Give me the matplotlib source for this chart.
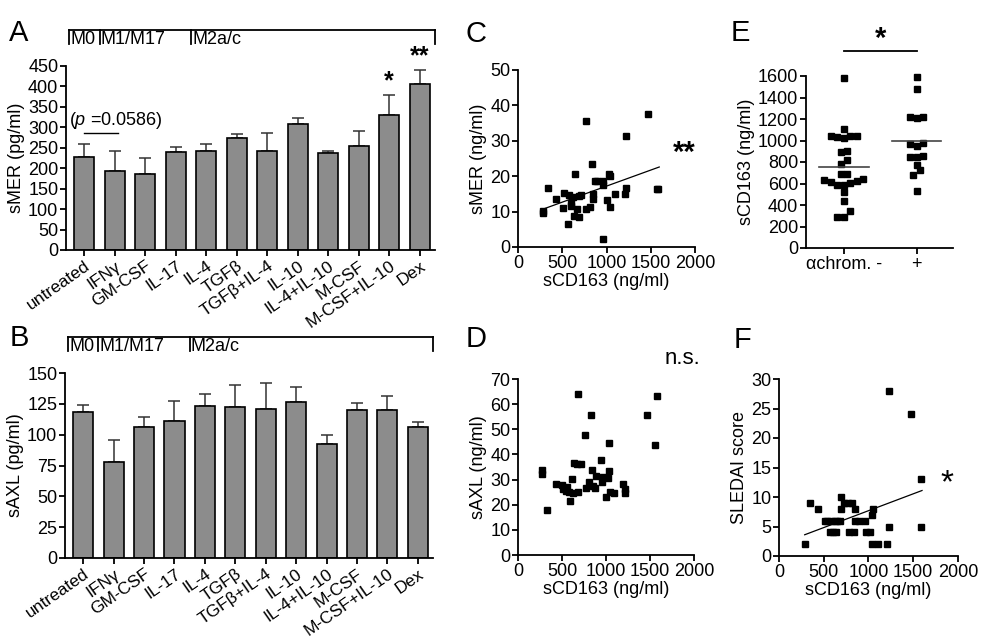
import numpy as np
import matplotlib
matplotlib.use('Agg')
import matplotlib.pyplot as plt
import matplotlib.transforms as mtransforms

plt.rcParams['font.family'] = ['Liberation Sans', 'DejaVu Sans']
plt.rcParams['mathtext.fontset'] = 'custom'
plt.rcParams['mathtext.it'] = 'Liberation Sans:italic'
plt.rcParams['mathtext.rm'] = 'Liberation Sans'
plt.rcParams['font.size'] = 13
plt.rcParams['axes.linewidth'] = 1.3
plt.rcParams['xtick.major.width'] = 1.3
plt.rcParams['ytick.major.width'] = 1.3
plt.rcParams['xtick.major.size'] = 4
plt.rcParams['ytick.major.size'] = 4
plt.rcParams['xtick.labelsize'] = 13
plt.rcParams['ytick.labelsize'] = 13

# bar charts (A, B)
treatments = ['untreated', 'IFNγ', 'GM-CSF', 'IL-17', 'IL-4', 'TGFβ', 'TGFβ+IL-4',
              'IL-10', 'IL-4+IL-10', 'M-CSF', 'M-CSF+IL-10', 'Dex']
smer_mean = [228, 193, 187, 239, 242, 273, 241, 307, 237, 255, 331, 406]
smer_err = [32, 50, 38, 12, 17, 11, 46, 17, 5, 35, 47, 33]
saxl_mean = [118.5, 78, 106, 111, 123, 122.5, 120.7, 126.6, 92.4, 120.4, 119.8, 106]
saxl_err = [5.9, 18, 8.5, 16.7, 10, 18.1, 21.3, 11.8, 7.6, 5.4, 11.2, 4]
groups = ['M0', 'M1/M17', 'M2a/c']
group_bounds = [-0.5, 0.5, 3.5, 11.5]

# C: sCD163 vs sMER
c_x = [283, 283, 340, 434, 509, 521, 577, 566, 596, 604, 623, 630, 642, 672, 687, 687, 717,
       766, 774, 811, 834, 842, 849, 875, 898, 955, 962, 966, 1008, 1030, 1045, 1042, 1098,
       1204, 1219, 1219, 1472, 1566, 1585]
c_y = [10.1, 9.6, 16.6, 13.6, 11.0, 15.3, 14.8, 6.4, 12.3, 11.5, 14.2, 8.8, 20.6, 10.8, 8.4,
       14.5, 14.8, 35.6, 10.8, 11.3, 23.5, 15.1, 13.6, 18.6, 18.7, 2.2, 18.7, 17.4, 13.4, 20.6,
       20.0, 11.2, 15.1, 14.9, 16.6, 31.4, 37.7, 16.4, 16.4]
c_fit_x = [283, 1596]
c_fit_y = [10.7, 22.6]

# D: sCD163 vs sAXL
d_x = [277, 277, 333, 428, 504, 515, 549, 561, 576, 591, 614, 621, 633, 674, 682, 682, 720,
       758, 769, 803, 830, 837, 856, 875, 883, 947, 958, 966, 1004, 1023, 1034, 1034, 1042,
       1087, 1193, 1212, 1212, 1466, 1561, 1580]
d_y = [33.8, 32.2, 17.9, 28.2, 28.0, 26.1, 25.6, 26.9, 25.2, 21.5, 30.4, 24.5, 36.6, 36.0,
       64.0, 25.2, 36.0, 47.7, 26.8, 28.9, 55.8, 33.7, 27.4, 26.8, 31.3, 37.6, 29.1, 30.9,
       22.9, 30.5, 44.6, 33.3, 25.2, 24.7, 28.1, 26.4, 24.8, 55.5, 43.6, 63.4]

# E: sCD163 by achromotrichia
e_neg = [1578, 1108, 1046, 1046, 1046, 1037, 1021, 891, 898, 820, 783, 690, 690, 634, 604,
         582, 582, 610, 625, 641, 520, 439, 347, 288, 288]
e_pos = [1588, 1479, 1222, 1213, 1222, 975, 953, 969, 857, 845, 851, 774, 727, 681, 526]

# F: sCD163 vs SLEDAI
f_x = [287, 343, 436, 510, 536, 566, 585, 603, 622, 633, 648, 678, 689, 689, 723, 771, 782,
       816, 838, 853, 846, 894, 957, 976, 1020, 1039, 1050, 1043, 1106, 1210, 1229, 1229,
       1479, 1583, 1590]
f_y = [2, 9, 8, 6, 6, 4, 6, 4, 6, 4, 6, 6, 8, 10, 9, 9, 4, 9, 4, 8, 6, 6, 6, 4, 4, 7, 8, 2,
       2, 2, 5, 28, 24, 5, 13]
f_fit_x = [287, 1598]
f_fit_y = [3.6, 11.1]

bar_color = '#8c8c8c'
W, H = 1004, 643
fig = plt.figure(figsize=(W / 100, H / 100), dpi=100)


def px_axes(l, t, r, b):
    return fig.add_axes([l / W, 1 - b / H, (r - l) / W, (b - t) / H])


def clean(ax):
    ax.spines['right'].set_visible(False)
    ax.spines['top'].set_visible(False)
    ax.tick_params(direction='out', pad=1.5)


def bar_panel(ax, means, errs, ylim, yticks, ylabel):
    pos = np.arange(len(treatments))
    ax.bar(pos, means, width=0.66, color=bar_color, edgecolor='black', linewidth=1.2, zorder=2)
    ax.errorbar(pos, means, yerr=[np.zeros(len(errs)), errs], fmt='none', ecolor='#333333',
                elinewidth=1.1, capsize=4, capthick=1.1, zorder=1)
    ax.set_xlim(-0.6, 11.5)
    ax.set_ylim(*ylim)
    ax.set_yticks(yticks)
    ax.set_xticks(pos)
    ax.set_xticklabels(treatments, rotation=35, ha='right', rotation_mode='anchor',
                       fontsize=12.5)
    ax.set_ylabel(ylabel, fontsize=13, labelpad=2)
    clean(ax)
    ax.tick_params(axis='x', pad=2)
    # macrophage-type bracket above the bars
    tr = mtransforms.blended_transform_factory(ax.transData, ax.transAxes)
    ax.plot([group_bounds[0], group_bounds[-1]], [1.195, 1.195], color='black', lw=1.3,
            transform=tr, clip_on=False)
    for b in group_bounds:
        ax.plot([b, b], [1.195, 1.12], color='black', lw=1.3, transform=tr, clip_on=False)
    for g, b in zip(groups, group_bounds[:-1]):
        ax.text(b + 0.04, 1.19, g, transform=tr, ha='left', va='top', fontsize=13)


# A
axA = px_axes(66, 66, 435, 250)
bar_panel(axA, smer_mean, smer_err, (0, 450), np.arange(0, 451, 50), 'sMER (pg/ml)')
axA.plot([0, 1.1], [286, 286], color='black', lw=1)
axA.text(-0.5, 290, r'($\mathit{p}$ =0.0586)', fontsize=13, va='bottom')
axA.text(10, smer_mean[10] + smer_err[10] + 6, '*', ha='center', va='bottom', fontsize=18,
         fontweight='bold')
axA.text(11, smer_mean[11] + smer_err[11] + 6, '**', ha='center', va='bottom', fontsize=18,
         fontweight='bold', clip_on=False)

# B
axB = px_axes(65, 373, 433, 558)
bar_panel(axB, saxl_mean, saxl_err, (0, 150), np.arange(0, 151, 25), 'sAXL (pg/ml)')

# C
axC = px_axes(518, 70, 695, 247)
axC.plot(c_x, c_y, 's', color='black', markersize=4.3, clip_on=False)
axC.plot(c_fit_x, c_fit_y, color='black', lw=0.9)
axC.set_xlim(0, 2000)
axC.set_ylim(0, 50)
axC.set_xticks([0, 500, 1000, 1500, 2000])
axC.set_yticks(np.arange(0, 51, 10))
axC.set_xlabel('sCD163 (ng/ml)', fontsize=13, labelpad=1)
axC.set_ylabel('sMER (ng/ml)', fontsize=13, labelpad=2)
axC.text(1880, 26.5, '**', fontsize=21, fontweight='bold', ha='center', va='center')
clean(axC)

# D
axD = px_axes(518, 379, 694, 555)
axD.plot(d_x, d_y, 's', color='black', markersize=4.3, clip_on=False)
axD.set_xlim(0, 2000)
axD.set_ylim(0, 70)
axD.set_xticks([0, 500, 1000, 1500, 2000])
axD.set_yticks(np.arange(0, 71, 10))
axD.set_xlabel('sCD163 (ng/ml)', fontsize=13, labelpad=1)
axD.set_ylabel('sAXL (ng/ml)', fontsize=13, labelpad=2)
axD.text(1870, 78, 'n.s.', fontsize=16, ha='center', va='center', clip_on=False)
clean(axD)


# E
def swarm(vals, step=0.09, thresh=60):
    # rows of similar values, lowest value of a row in the middle
    vals = np.sort(np.asarray(vals, dtype=float))
    offs = np.zeros(len(vals))
    i = 0
    while i < len(vals):
        j = i
        while j + 1 < len(vals) and vals[j + 1] - vals[i] < thresh:
            j += 1
        n = j - i + 1
        slots = (np.arange(n) - (n - 1) / 2) * step
        order = np.argsort(np.abs(slots), kind='stable')
        offs[i:j + 1] = slots[order]
        i = j + 1
    return vals, offs


axE = px_axes(806, 76, 953, 248)
for k, grp in enumerate([e_neg, e_pos]):
    v, o = swarm(grp)
    axE.plot(k + o, v, 's', color='black', markersize=4.3, clip_on=False)
    m = np.mean(grp)
    axE.plot([k - 0.34, k + 0.34], [m, m], color='#444444', lw=1.2)
axE.set_xlim(-0.52, 1.5)
axE.set_ylim(0, 1600)
axE.set_yticks(np.arange(0, 1601, 200))
axE.set_xticks([0, 1])
axE.set_xticklabels(['αchrom. -', '+'], fontsize=13)
axE.set_ylabel('sCD163 (ng/ml)', fontsize=13, labelpad=2)
axE.plot([0, 1], [1830, 1830], color='black', lw=1.3, clip_on=False)
axE.text(0.5, 1815, '*', fontsize=21, fontweight='bold', ha='center', va='bottom')
clean(axE)

# F
axF = px_axes(779, 379, 958, 556)
axF.plot(f_x, f_y, 's', color='black', markersize=4.3, clip_on=False)
axF.plot(f_fit_x, f_fit_y, color='black', lw=0.9)
axF.set_xlim(0, 2000)
axF.set_ylim(0, 30)
axF.set_xticks([0, 500, 1000, 1500, 2000])
axF.set_yticks(np.arange(0, 31, 5))
axF.set_xlabel('sCD163 (ng/ml)', fontsize=13, labelpad=1)
axF.set_ylabel('SLEDAI score', fontsize=13, labelpad=2)
axF.text(1880, 12.3, '*', fontsize=24, ha='center', va='center')
clean(axF)

# panel letters
for letter, (x, y) in zip('ABCDEF', [(9, 19), (10, 324), (466, 20), (466, 325), (731, 19), (734, 326)]):
    fig.text(x / W, 1 - y / H, letter, fontsize=21, ha='left', va='top')

fig.savefig('out.png', dpi=100)
